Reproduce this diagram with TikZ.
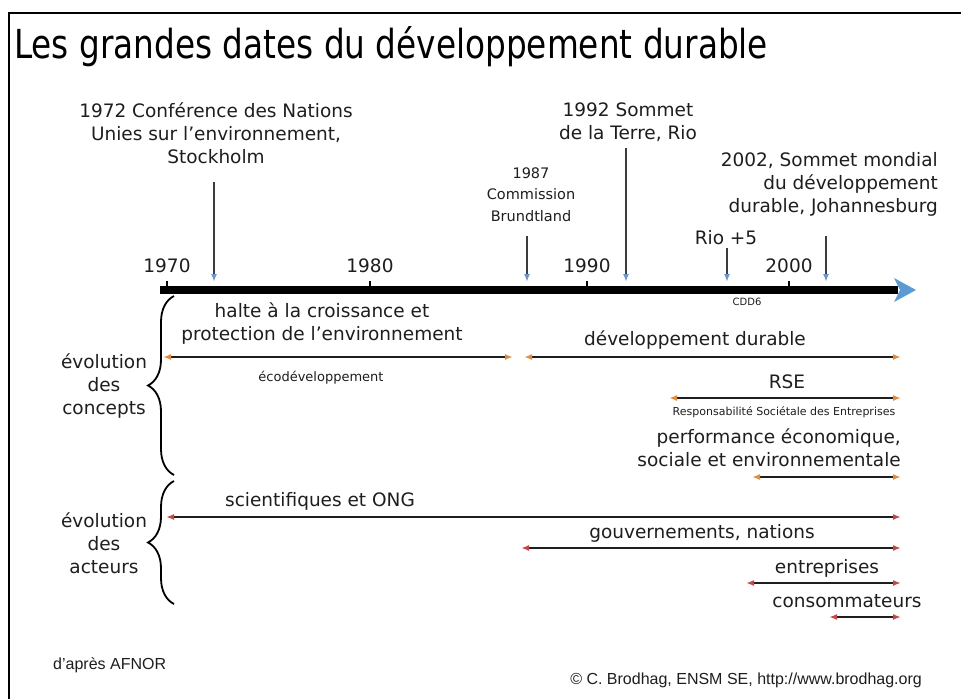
\documentclass[tikz,border=0pt]{standalone}
\usepackage{fontspec}
\setmainfont{DejaVu Sans}
\newfontfamily\footfont{Liberation Sans}
\usetikzlibrary{arrows.meta,decorations.pathreplacing}
\definecolor{axisblue}{RGB}{91,155,213}
\definecolor{tipblue}{RGB}{110,150,205}
\definecolor{tiporange}{RGB}{226,140,60}
\definecolor{tipred}{RGB}{200,70,70}
\definecolor{evgray}{RGB}{60,60,60}
\definecolor{txt}{RGB}{30,30,30}
\begin{document}
\begin{tikzpicture}[x=1pt,y=-1pt,
  big/.style={font=\fontsize{18.5}{23}\selectfont, inner sep=0pt, align=center, text=txt},
  mid/.style={font=\fontsize{14.5}{21.5}\selectfont, inner sep=0pt, align=center, text=txt},
  tiny/.style={font=\fontsize{11}{13}\selectfont, inner sep=0pt, text=txt},
  foot/.style={font=\footfont\fontsize{16}{18}\selectfont, inner sep=0pt, text=txt},
  evarrow/.style={draw=evgray, line width=2pt, -{Latex[length=8pt,width=6pt,color=tipblue]}},
  tick/.style={draw=black, line width=1.6pt},
  concarrow/.style={draw=txt, line width=1.6pt, {Latex[length=8pt,width=6pt,color=tiporange]}-{Latex[length=8pt,width=6pt,color=tiporange]}},
  actarrow/.style={draw=txt, line width=1.6pt, {Latex[length=8pt,width=6pt,color=tipred]}-{Latex[length=8pt,width=6pt,color=tipred]}},
  bracestyle/.style={draw=black, line width=1.8pt, decorate, decoration={brace, amplitude=26pt}}
]
\useasboundingbox (0,0) rectangle (961,699);
\fill[white] (0,0) rectangle (961,699);
% frame
\draw[line width=2pt] (9,699) -- (9,13) -- (961,13);

% title
\node[anchor=base west, inner sep=0pt, text=black] (title) at (14,58)
  {\fontsize{40}{44}\selectfont\scalebox{0.818}[1]{Les grandes dates du développement durable}};

% axis
\coordinate (axs) at (160,290);
\coordinate (axe) at (898,290);
\draw[line width=8pt] (axs) -- (axe);
\fill[axisblue] (916,290) -- (894,278) -- (900,290) -- (894,302) -- cycle;

% ticks and year labels
\foreach \x/\y in {167/1970, 370/1980, 587/1990, 789/2000} {
  \coordinate (t\y) at (\x,290);
  \coordinate (tt\y) at (\x,281);
  \draw[tick] (t\y) -- (tt\y);
  \node[big, anchor=base] (y\y) at (\x,272) {\y};
}

% event arrows
\coordinate (e72t) at (214,182); \coordinate (e72b) at (214,282);
\coordinate (e87t) at (527,236); \coordinate (e87b) at (527,282);
\coordinate (e92t) at (626,148); \coordinate (e92b) at (626,282);
\coordinate (e97t) at (727,248); \coordinate (e97b) at (727,282);
\coordinate (e02t) at (826,236); \coordinate (e02b) at (826,282);
\draw[evarrow] (e72t) -- (e72b);
\draw[evarrow] (e87t) -- (e87b);
\draw[evarrow] (e92t) -- (e92b);
\draw[evarrow] (e97t) -- (e97b);
\draw[evarrow] (e02t) -- (e02b);

% event labels (anchor base = baseline of the last line)
\node[big, anchor=base] (l72) at (216,163) {1972 Conférence des Nations\\Unies sur l’environnement,\\Stockholm};
\node[big, anchor=base] (l92) at (628,139) {1992 Sommet\\de la Terre, Rio};
\node[mid, anchor=base] (l87) at (531,221) {1987\\Commission\\Brundtland};
\node[big, anchor=base east, align=right] (l02) at (938,212) {2002, Sommet mondial\\du développement\\durable, Johannesburg};
\node[big, anchor=base] (l97) at (726,244) {Rio +5};
\node[font=\fontsize{10}{12}\selectfont, inner sep=0pt, anchor=base, text=txt] (cdd) at (747,305) {CDD6};

% braces
\coordinate (b1a) at (174,475); \coordinate (b1b) at (174,296);
\coordinate (b2a) at (174,604); \coordinate (b2b) at (174,481);
\draw[bracestyle] (b1a) -- (b1b);
\draw[bracestyle] (b2a) -- (b2b);
\node[big, anchor=base] (bc) at (104,414) {évolution\\des\\concepts};
\node[big, anchor=base] (ba) at (104,573) {évolution\\des\\acteurs};

% concept arrows
\coordinate (h1) at (163,357); \coordinate (h2) at (513,357);
\coordinate (d1) at (524,357); \coordinate (d2) at (901,357);
\coordinate (r1) at (669,398); \coordinate (r2) at (901,398);
\coordinate (p1) at (752,477); \coordinate (p2) at (901,477);
\draw[concarrow] (h1) -- (h2);
\draw[concarrow] (d1) -- (d2);
\draw[concarrow] (r1) -- (r2);
\draw[concarrow] (p1) -- (p2);
\node[big, anchor=base] (halte) at (322,340) {halte à la croissance et\\protection de l’environnement};
\node[font=\fontsize{13}{15}\selectfont, inner sep=0pt, anchor=base, text=txt] (eco) at (321,381) {écodéveloppement};
\node[big, anchor=base] (dd) at (695,345) {développement durable};
\node[big, anchor=base] (rse) at (787,388) {RSE};
\node[tiny, anchor=base] (rsel) at (784,415) {Responsabilité Sociétale des Entreprises};
\node[big, anchor=base east, align=right] (perf) at (901,466) {performance économique,\\sociale et environnementale};

% actor arrows
\coordinate (s1) at (166,517); \coordinate (s2) at (901,517);
\coordinate (g1) at (521,548); \coordinate (g2) at (901,548);
\coordinate (n1) at (746,583); \coordinate (n2) at (901,583);
\coordinate (c1) at (829,617); \coordinate (c2) at (901,617);
\draw[actarrow] (s1) -- (s2);
\draw[actarrow] (g1) -- (g2);
\draw[actarrow] (n1) -- (n2);
\draw[actarrow] (c1) -- (c2);
\node[big, anchor=base] (sci) at (320,506) {scientifiques et ONG};
\node[big, anchor=base] (gov) at (702,538) {gouvernements, nations};
\node[big, anchor=base] (ent) at (827,573) {entreprises};
\node[big, anchor=base] (con) at (847,607) {consommateurs};

% footer
\node[foot, anchor=base west] (afnor) at (53,669) {d’après AFNOR};
\node[foot, anchor=base east] (copy) at (922,684) {© C. Brodhag, ENSM SE, http://www.brodhag.org};
\end{tikzpicture}
\end{document}
